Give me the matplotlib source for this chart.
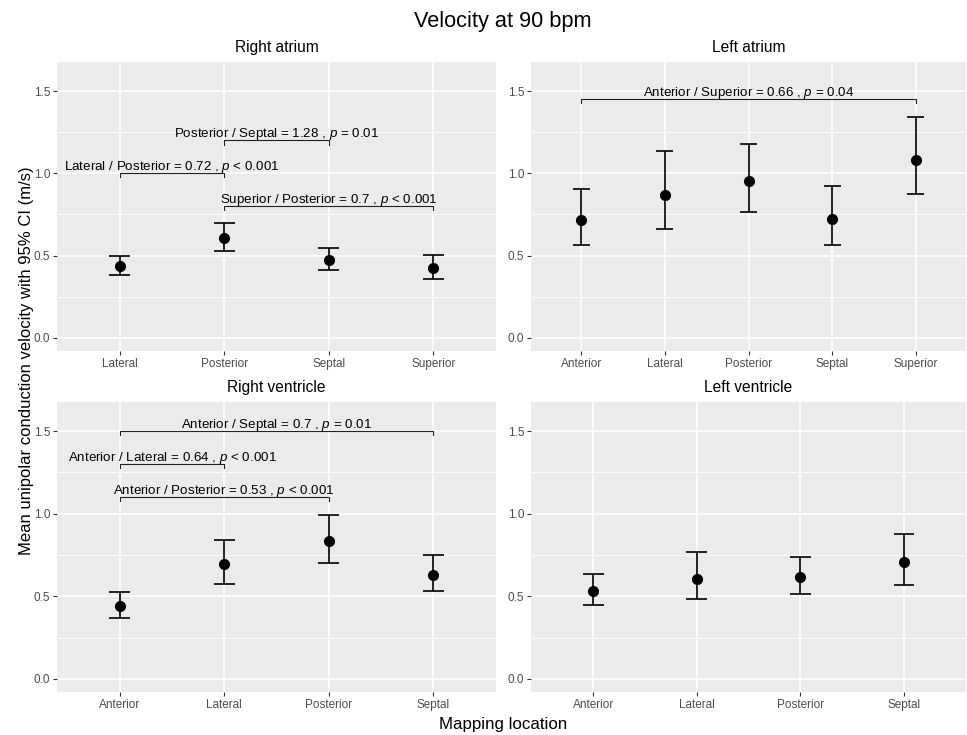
import matplotlib
matplotlib.use("Agg")
import matplotlib.pyplot as plt
import numpy as np

plt.rcParams["font.family"] = ["Liberation Sans", "DejaVu Sans"]
plt.rcParams["mathtext.fontset"] = "custom"
plt.rcParams["mathtext.rm"] = "Liberation Sans"
plt.rcParams["mathtext.it"] = "Liberation Sans:italic"

# --------------------------------------------------
# data
# --------------------------------------------------
ra_sites = ["Lateral", "Posterior", "Septal", "Superior"]
ra_mean = [0.437, 0.607, 0.476, 0.423]
ra_lo = [0.384, 0.530, 0.415, 0.358]
ra_hi = [0.498, 0.696, 0.545, 0.504]
ra_tests = [
    ("Posterior", "Septal", 1.20, "Posterior / Septal = 1.28", "= 0.01"),
    ("Lateral", "Posterior", 1.00, "Lateral / Posterior = 0.72", "< 0.001"),
    ("Posterior", "Superior", 0.80, "Superior / Posterior = 0.7", "< 0.001"),
]

la_sites = ["Anterior", "Lateral", "Posterior", "Septal", "Superior"]
la_mean = [0.716, 0.866, 0.951, 0.721, 1.083]
la_lo = [0.565, 0.664, 0.767, 0.563, 0.874]
la_hi = [0.905, 1.134, 1.178, 0.921, 1.344]
la_tests = [
    ("Anterior", "Superior", 1.45, "Anterior / Superior = 0.66", "= 0.04"),
]

rv_sites = ["Anterior", "Lateral", "Posterior", "Septal"]
rv_mean = [0.443, 0.696, 0.833, 0.629]
rv_lo = [0.370, 0.574, 0.700, 0.532]
rv_hi = [0.528, 0.839, 0.993, 0.748]
rv_tests = [
    ("Anterior", "Septal", 1.50, "Anterior / Septal = 0.7", "= 0.01"),
    ("Anterior", "Lateral", 1.30, "Anterior / Lateral = 0.64", "< 0.001"),
    ("Anterior", "Posterior", 1.10, "Anterior / Posterior = 0.53", "< 0.001"),
]

lv_sites = ["Anterior", "Lateral", "Posterior", "Septal"]
lv_mean = [0.532, 0.606, 0.617, 0.708]
lv_lo = [0.445, 0.481, 0.516, 0.570]
lv_hi = [0.635, 0.766, 0.736, 0.876]
lv_tests = []

panels = [
    ("Right atrium", ra_sites, ra_mean, ra_lo, ra_hi, ra_tests),
    ("Left atrium", la_sites, la_mean, la_lo, la_hi, la_tests),
    ("Right ventricle", rv_sites, rv_mean, rv_lo, rv_hi, rv_tests),
    ("Left ventricle", lv_sites, lv_mean, lv_lo, lv_hi, lv_tests),
]

# pixel boxes of the four panels (left, top, right, bottom)
W, H = 967, 735
boxes = [
    (57, 62, 496, 351),
    (531, 62, 966, 351),
    (57, 402, 496, 692),
    (531, 402, 966, 692),
]

fig = plt.figure(figsize=(W / 100, H / 100), dpi=100)


def draw_panel(box, title, sites, mean, lo, hi, tests):
    l, t, r, b = box
    ax = fig.add_axes([l / W, 1 - b / H, (r - l) / W, (b - t) / H])
    ax.set_facecolor("#EBEBEB")
    for s in ax.spines.values():
        s.set_visible(False)

    x = np.arange(1, len(sites) + 1)
    mean = np.asarray(mean)
    lo = np.asarray(lo)
    hi = np.asarray(hi)

    # error bars with caps 0.2 wide (data units)
    ax.vlines(x, lo, hi, color="black", lw=1.2, zorder=3)
    ax.hlines(lo, x - 0.1, x + 0.1, color="black", lw=1.2, zorder=3)
    ax.hlines(hi, x - 0.1, x + 0.1, color="black", lw=1.2, zorder=3)
    ax.plot(x, mean, "o", color="black", ms=7, zorder=4)

    # significance brackets
    tip = 0.025
    for a, c, y, lab, pv in tests:
        xa = sites.index(a) + 1
        xc = sites.index(c) + 1
        ax.plot([xa, xa, xc, xc], [y - tip, y, y, y - tip],
                color="#222222", lw=0.8, zorder=3)
        ax.annotate(lab + r" , $\mathit{p}$ " + pv,
                    xy=((xa + xc) / 2, y), xytext=(0, 2.5),
                    textcoords="offset points", ha="center", va="baseline",
                    fontsize=9.6, color="black", zorder=5)

    ax.set_xlim(0.4, len(sites) + 0.6)
    ax.set_ylim(-0.08, 1.677)
    ax.set_xticks(x, sites)
    ax.set_yticks([0.0, 0.5, 1.0, 1.5], ["0.0", "0.5", "1.0", "1.5"])
    ax.set_yticks([0.25, 0.75, 1.25], minor=True)
    ax.tick_params(which="major", length=3, width=0.8, color="#333333",
                   labelcolor="#4D4D4D", labelsize=8.5, pad=2)
    ax.tick_params(which="minor", length=0)
    ax.grid(which="major", color="white", lw=1.1)
    ax.grid(which="minor", axis="y", color="white", lw=0.55)
    ax.set_axisbelow(True)

    ax.set_title(title, fontsize=11.2, pad=7)
    return ax


for box, (title, sites, mean, lo, hi, tests) in zip(boxes, panels):
    draw_panel(box, title, sites, mean, lo, hi, tests)

fig.text(503 / W, 1 - 22 / H, "Velocity at 90 bpm", ha="center", va="center",
         fontsize=15.7)
fig.text(503 / W, 1 - 725 / H, "Mapping location", ha="center", va="center",
         fontsize=12.2)
fig.text(27 / W, 1 - 361 / H, "Mean unipolar conduction velocity with 95% CI (m/s)",
         ha="center", va="center", rotation=90, fontsize=12)

fig.savefig("out.png", dpi=100, facecolor="white")
